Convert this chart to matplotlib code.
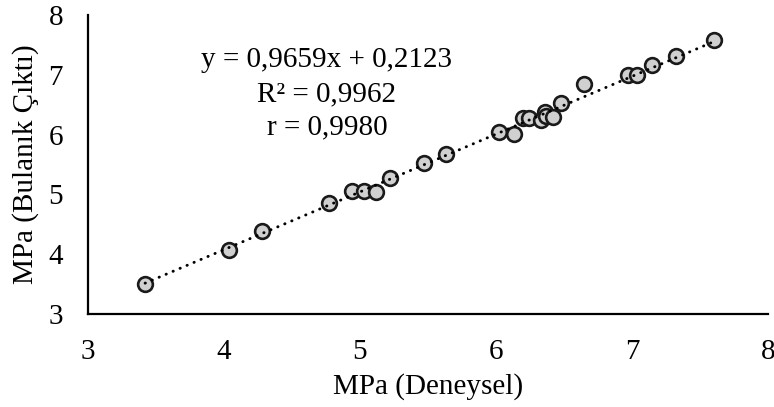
import matplotlib
matplotlib.use("Agg")
import matplotlib.pyplot as plt
import numpy as np

x_exp = [3.42, 4.04, 4.28, 4.77, 4.94, 5.03, 5.12, 5.22, 5.47, 5.63,
         6.02, 6.13, 6.20, 6.24, 6.33, 6.36, 6.37, 6.42, 6.48, 6.65,
         6.97, 7.04, 7.15, 7.32, 7.60]
y_fuzzy = [3.50, 4.07, 4.39, 4.85, 5.05, 5.05, 5.04, 5.28, 5.52, 5.68,
           6.05, 6.01, 6.27, 6.27, 6.25, 6.37, 6.31, 6.30, 6.53, 6.84,
           7.00, 7.00, 7.17, 7.32, 7.59]
slope = 0.9659
intercept = 0.2123
eq_lines = ["y = 0,9659x + 0,2123", "R² = 0,9962", "r = 0,9980"]
xticks = [3, 4, 5, 6, 7, 8]
yticks = [3, 4, 5, 6, 7, 8]

plt.rcParams['font.family'] = ['Liberation Serif', 'DejaVu Serif']

fig = plt.figure(figsize=(7.74, 4.07), dpi=100)
ax = fig.add_axes([88/774, (407-314)/407, (768-88)/774, (314-15)/407])

ax.scatter(x_exp, y_fuzzy, s=112, facecolor='#D0D0D0', edgecolor='#1a1a1a',
           linewidth=1.9, zorder=3)

xl = np.array([min(x_exp), max(x_exp)])
ax.plot(xl, slope * xl + intercept, color='black', lw=2.1,
        linestyle=(0, (0.1, 2.5)), dash_capstyle='round', zorder=4)

ax.text(4.757, 6.68, "\n".join(eq_lines), ha='center', va='center',
        fontsize=21, linespacing=1.38, color='black')

ax.set_xlim(3, 8)
ax.set_ylim(3, 8)
ax.set_xticks(xticks)
ax.set_yticks(yticks)
ax.tick_params(length=0, labelsize=21, pad=18)
for s in ['top', 'right']:
    ax.spines[s].set_visible(False)
for s in ['left', 'bottom']:
    ax.spines[s].set_linewidth(1.6)
    ax.spines[s].set_color('black')

ax.set_xlabel("MPa (Deneysel)", fontsize=21, labelpad=6)
ax.set_ylabel("MPa (Bulanık Çıktı)", fontsize=21, labelpad=7)

fig.savefig("out.png", dpi=100)
